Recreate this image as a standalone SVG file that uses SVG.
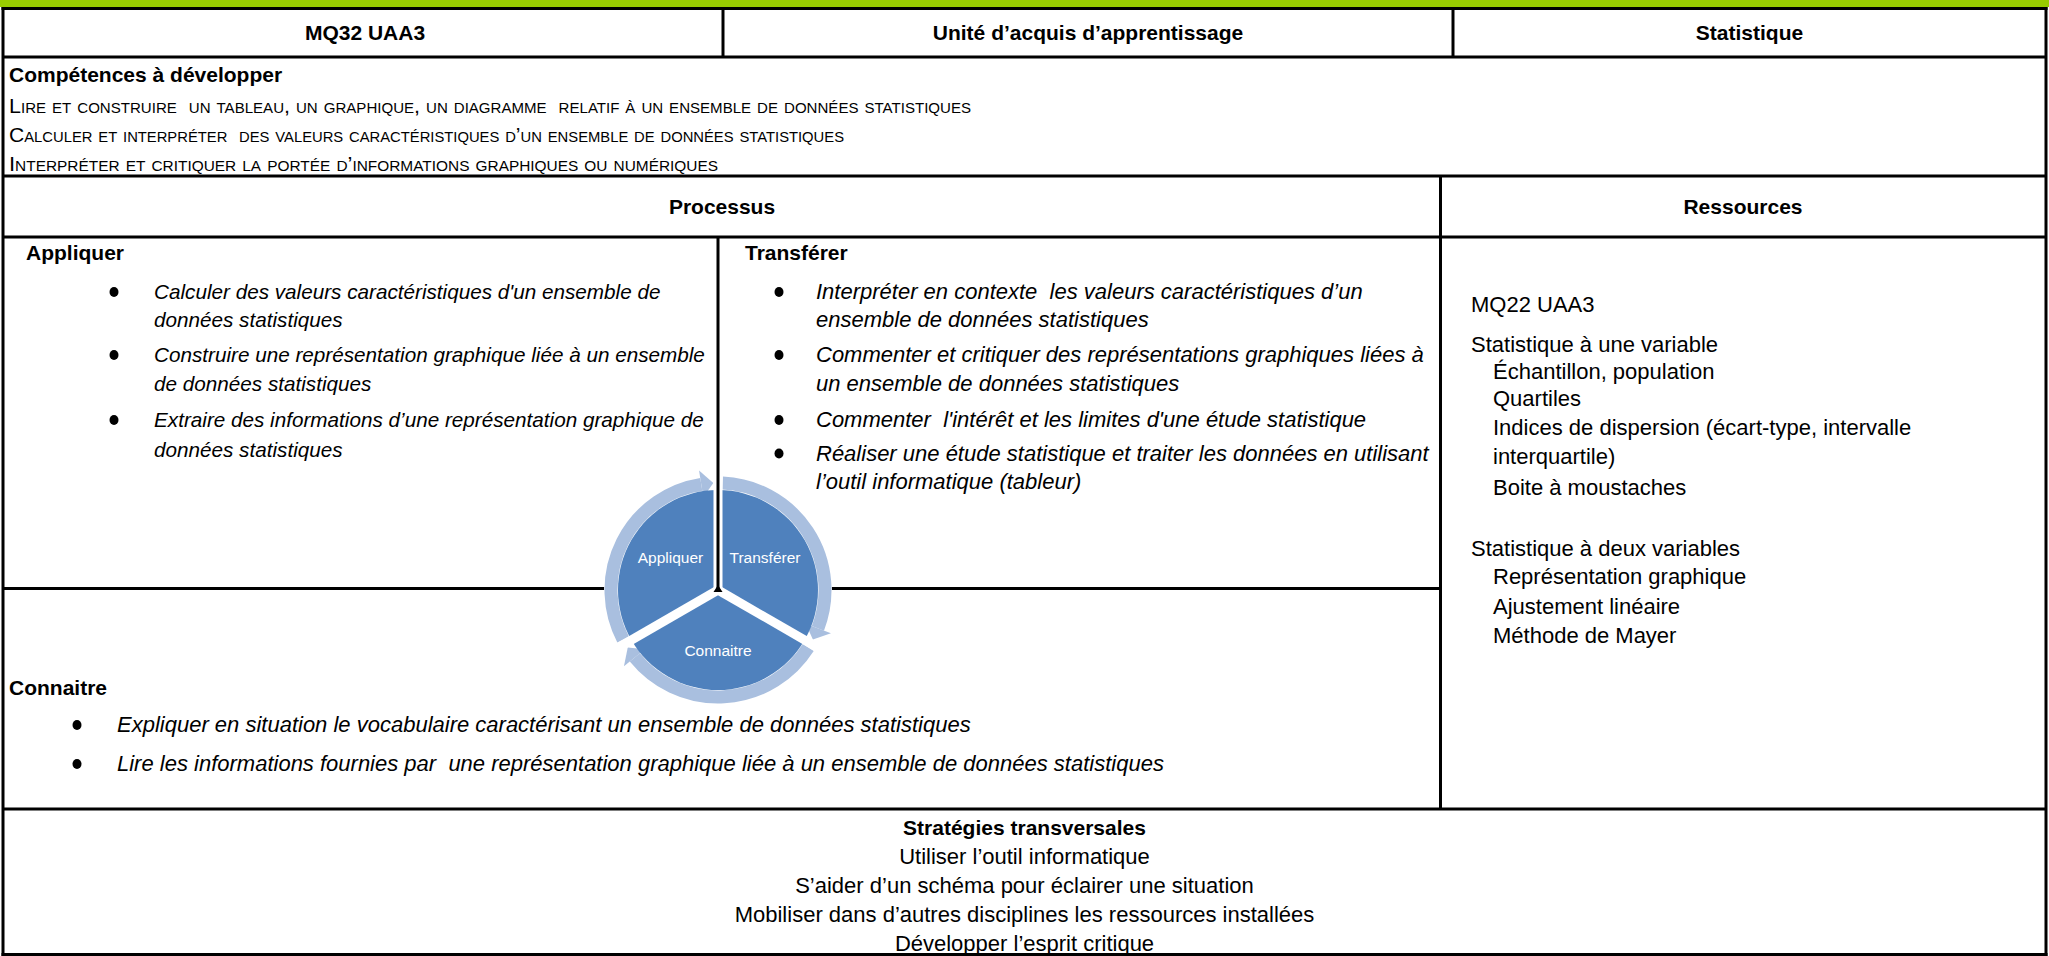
<svg xmlns="http://www.w3.org/2000/svg" width="2049" height="956" viewBox="0 0 2049 956">
<style>
  .ln{stroke:#000;stroke-width:3;fill:none}
  text{font-family:"Liberation Sans",Arial,sans-serif;fill:#000;white-space:pre}
  .b{font-weight:bold;font-size:21px}
  .r{font-size:22px}
  .i{font-size:22px;font-style:italic}
  .i2{font-size:20.7px;font-style:italic}
  .sc{font-size:20px;font-variant:small-caps}
  .m{text-anchor:middle}
  .lbl{font-size:15.5px;fill:#fff;text-anchor:middle}
  .dot{fill:#000}
  .wedge{fill:#4f81bd}
  .ring{fill:none;stroke:#a9bfdf;stroke-width:13}
  .head{fill:#a9bfdf}
  .gap{stroke:#fff;stroke-width:9}
</style>
<rect x="0" y="0" width="2049" height="956" fill="#fff"/>
<rect x="0" y="0" width="2049" height="7" fill="#99cc00"/>

<g id="table-lines">
  <line class="ln" x1="1.5" y1="8.5" x2="2047.5" y2="8.5"/>
  <line class="ln" x1="3" y1="7" x2="3" y2="956"/>
  <line class="ln" x1="2046" y1="7" x2="2046" y2="956"/>
  <line class="ln" x1="3" y1="57" x2="2046" y2="57"/>
  <line class="ln" x1="723" y1="8.5" x2="723" y2="57"/>
  <line class="ln" x1="1453" y1="8.5" x2="1453" y2="57"/>
  <line class="ln" x1="3" y1="176" x2="2046" y2="176"/>
  <line class="ln" x1="3" y1="237" x2="2046" y2="237"/>
  <line class="ln" x1="1440.5" y1="176" x2="1440.5" y2="809"/>
  <line class="ln" x1="3" y1="588.5" x2="1440.5" y2="588.5"/>
  <line class="ln" x1="3" y1="809" x2="2046" y2="809"/>
  <line class="ln" x1="1.5" y1="954.5" x2="2047.5" y2="954.5"/>
</g>

<g id="header">
  <text class="b m" x="365" y="40">MQ32 UAA3</text>
  <text class="b m" x="1088" y="40">Unité d’acquis d’apprentissage</text>
  <text class="b m" x="1749.5" y="40">Statistique</text>
</g>

<g id="competences">
  <text class="b" x="9" y="82">Compétences à développer</text>
  <text class="sc" x="9" y="113" textLength="962" lengthAdjust="spacingAndGlyphs">Lire et construire  un tableau, un graphique, un diagramme  relatif à un ensemble de données statistiques</text>
  <text class="sc" x="9" y="142" textLength="835" lengthAdjust="spacingAndGlyphs">Calculer et interpréter  des valeurs caractéristiques d’un ensemble de données statistiques</text>
  <text class="sc" x="9" y="170.5" textLength="709" lengthAdjust="spacingAndGlyphs">Interpréter et critiquer la portée d’informations graphiques ou numériques</text>
</g>

<g id="processus-head">
  <text class="b m" x="722" y="214">Processus</text>
</g>
<g id="ressources-head">
  <text class="b m" x="1743" y="214">Ressources</text>
</g>

<g id="appliquer">
  <text class="b" x="26" y="260">Appliquer</text>
  <ellipse class="dot" cx="114" cy="292" rx="4.5" ry="5"/>
  <ellipse class="dot" cx="114" cy="355" rx="4.5" ry="5"/>
  <ellipse class="dot" cx="114" cy="420" rx="4.5" ry="5"/>
  <text class="i2" x="154" y="299">Calculer des valeurs caractéristiques d'un ensemble de</text>
  <text class="i2" x="154" y="327">données statistiques</text>
  <text class="i2" x="154" y="362">Construire une représentation graphique liée à un ensemble</text>
  <text class="i2" x="154" y="391">de données statistiques</text>
  <text class="i2" x="154" y="427">Extraire des informations d’une représentation graphique de</text>
  <text class="i2" x="154" y="456.5">données statistiques</text>
</g>

<g id="transferer">
  <text class="b" x="745" y="260">Transférer</text>
  <ellipse class="dot" cx="779" cy="292" rx="4.5" ry="5"/>
  <ellipse class="dot" cx="779" cy="355" rx="4.5" ry="5"/>
  <ellipse class="dot" cx="779" cy="420" rx="4.5" ry="5"/>
  <ellipse class="dot" cx="779" cy="453.5" rx="4.5" ry="5"/>
  <text class="i" x="816" y="299">Interpréter en contexte  les valeurs caractéristiques d’un</text>
  <text class="i" x="816" y="327">ensemble de données statistiques</text>
  <text class="i" x="816" y="362">Commenter et critiquer des représentations graphiques liées à</text>
  <text class="i" x="816" y="391">un ensemble de données statistiques</text>
  <text class="i" x="816" y="427">Commenter  l'intérêt et les limites d'une étude statistique</text>
  <text class="i" x="816" y="460.5">Réaliser une étude statistique et traiter les données en utilisant</text>
  <text class="i" x="816" y="488.5">l’outil informatique (tableur)</text>
</g>

<g id="connaitre">
  <text class="b" x="9" y="695">Connaitre</text>
  <ellipse class="dot" cx="77" cy="725" rx="4.5" ry="5"/>
  <ellipse class="dot" cx="77" cy="764" rx="4.5" ry="5"/>
  <text class="i" x="117" y="732">Expliquer en situation le vocabulaire caractérisant un ensemble de données statistiques</text>
  <text class="i" x="117" y="771">Lire les informations fournies par  une représentation graphique liée à un ensemble de données statistiques</text>
</g>

<g id="ressources">
  <text class="r" x="1471" y="312">MQ22 UAA3</text>
  <text class="r" x="1471" y="352">Statistique à une variable</text>
  <text class="r" x="1493" y="379">Échantillon, population</text>
  <text class="r" x="1493" y="406">Quartiles</text>
  <text class="r" x="1493" y="435">Indices de dispersion (écart-type, intervalle</text>
  <text class="r" x="1493" y="464">interquartile)</text>
  <text class="r" x="1493" y="495">Boite à moustaches</text>
  <text class="r" x="1471" y="556">Statistique à deux variables</text>
  <text class="r" x="1493" y="584">Représentation graphique</text>
  <text class="r" x="1493" y="614">Ajustement linéaire</text>
  <text class="r" x="1493" y="643">Méthode de Mayer</text>
</g>

<g id="strategies">
  <text class="b m" x="1024.5" y="835">Stratégies transversales</text>
  <text class="r m" x="1024.5" y="864">Utiliser l’outil informatique</text>
  <text class="r m" x="1024.5" y="893">S’aider d’un schéma pour éclairer une situation</text>
  <text class="r m" x="1024.5" y="922">Mobiliser dans d’autres disciplines les ressources installées</text>
  <text class="r m" x="1024.5" y="951">Développer l’esprit critique</text>
</g>

<g id="cycle" transform="translate(-2.5,0)">
  <circle cx="720.5" cy="590" r="114" fill="#fff"/>
  <g id="connectors">
    <path class="ring" d="M625.59 639.41 A107 107 0 0 1 703.76 484.32"/>
    <polygon class="head" points="705.80,497.16 701.57,470.49 715.83,483.10"/>
    <path class="ring" d="M725.17 483.10 A107 107 0 0 1 820.39 628.35"/>
    <polygon class="head" points="808.26,623.69 833.46,633.36 815.41,639.41"/>
    <path class="ring" d="M810.74 647.49 A107 107 0 0 1 637.34 657.34"/>
    <polygon class="head" points="647.45,649.16 626.46,666.15 630.26,647.49"/>
  </g>
  <g id="seg-appliquer">
    <path class="wedge" d="M720.5 590 L720.5 490 A100 100 0 0 0 633.90 640 Z"/>
    <text class="lbl" x="673" y="563">Appliquer</text>
  </g>
  <g id="seg-transferer">
    <path class="wedge" d="M720.5 590 L720.5 490 A100 100 0 0 1 807.10 640 Z"/>
    <text class="lbl" x="767.5" y="563">Transférer</text>
  </g>
  <g id="seg-connaitre">
    <path class="wedge" d="M720.5 590 L807.10 640 A100 100 0 0 1 633.90 640 Z"/>
    <text class="lbl" x="720.5" y="656">Connaitre</text>
  </g>
  <line class="gap" x1="720.5" y1="590" x2="720.5" y2="460"/>
  <line class="gap" x1="720.5" y1="590" x2="608" y2="655"/>
  <line class="gap" x1="720.5" y1="590" x2="833" y2="655"/>
</g>

<g id="divider-top">
  <line class="ln" x1="718" y1="237" x2="718" y2="590"/>
  <polygon points="718,585 713.5,592 722.5,592" fill="#000"/>
</g>
</svg>
